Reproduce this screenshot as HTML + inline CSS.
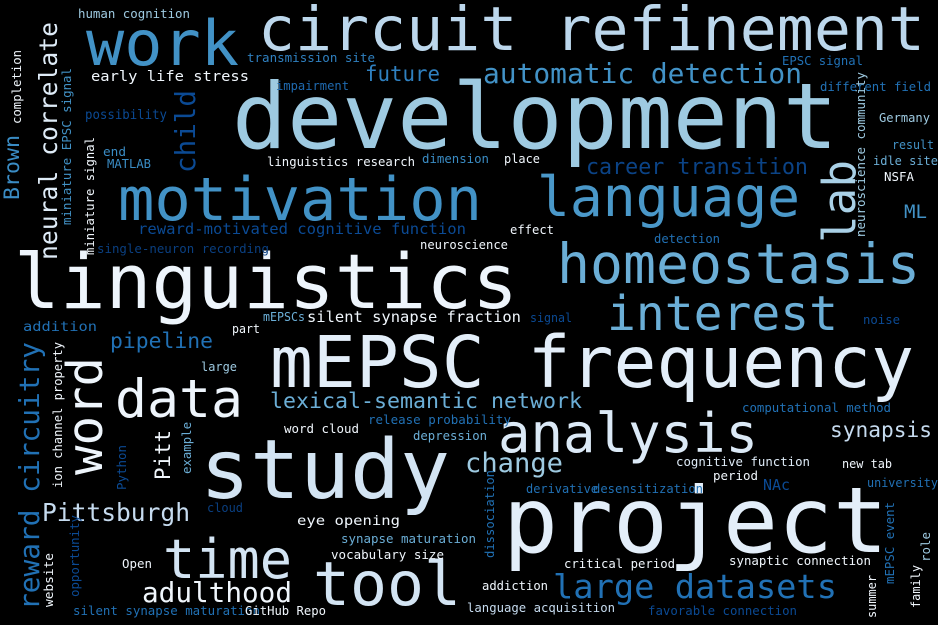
<!DOCTYPE html>
<html><head><meta charset="utf-8"><style>
html,body{margin:0;padding:0;background:#000;}
svg{display:block;}
text{font-family:"DejaVu Sans Mono","Liberation Mono",monospace;}
</style></head><body>
<svg width="938" height="625" viewBox="0 0 938 625" xmlns="http://www.w3.org/2000/svg">
<rect width="938" height="625" fill="#000"/>
<g lengthAdjust="spacingAndGlyphs">
<!-- large words -->
<text x="232" y="148" font-size="91" fill="#9ecae1" textLength="606" lengthAdjust="spacingAndGlyphs">development</text>
<text x="258" y="50" font-size="61" fill="#bcd7ec" textLength="667" lengthAdjust="spacingAndGlyphs">circuit refinement</text>
<text x="86" y="65" font-size="62" fill="#4292c6" textLength="153" lengthAdjust="spacingAndGlyphs">work</text>
<text x="118" y="220" font-size="60" fill="#4292c6" textLength="364" lengthAdjust="spacingAndGlyphs">motivation</text>
<text x="537" y="216" font-size="55" fill="#4a98c9" textLength="263" lengthAdjust="spacingAndGlyphs">language</text>
<text x="14" y="308" font-size="76" fill="#eef5fc" textLength="504" lengthAdjust="spacingAndGlyphs">linguistics</text>
<text x="557" y="283" font-size="55" fill="#6baed6" textLength="363" lengthAdjust="spacingAndGlyphs">homeostasis</text>
<text x="607" y="330" font-size="48" fill="#6baed6" textLength="231" lengthAdjust="spacingAndGlyphs">interest</text>
<text x="270" y="387" font-size="71" fill="#e3eef9" textLength="644" lengthAdjust="spacingAndGlyphs">mEPSC frequency</text>
<text x="115" y="417" font-size="53" fill="#eef5fc" textLength="128" lengthAdjust="spacingAndGlyphs">data</text>
<text x="498" y="452" font-size="54" fill="#dbe9f6" textLength="260" lengthAdjust="spacingAndGlyphs">analysis</text>
<text x="200" y="498" font-size="82" fill="#d3e4f3" textLength="250" lengthAdjust="spacingAndGlyphs">study</text>
<text x="503" y="552" font-size="91" fill="#e3eef9" textLength="385" lengthAdjust="spacingAndGlyphs">project</text>
<text x="163" y="578" font-size="54" fill="#d3e4f3" textLength="129" lengthAdjust="spacingAndGlyphs">time</text>
<text x="313" y="605" font-size="61" fill="#d3e4f3" textLength="148" lengthAdjust="spacingAndGlyphs">tool</text>
<text x="142" y="602" font-size="28" fill="#f0f6fc" textLength="150" lengthAdjust="spacingAndGlyphs">adulthood</text>
<text x="553" y="598" font-size="33" fill="#2171b5" textLength="284" lengthAdjust="spacingAndGlyphs">large datasets</text>
<text x="42" y="521" font-size="25" fill="#c6dbef" textLength="148" lengthAdjust="spacingAndGlyphs">Pittsburgh</text>
<text x="483" y="83" font-size="28" fill="#4292c6" textLength="319" lengthAdjust="spacingAndGlyphs">automatic detection</text>
<text x="586" y="174" font-size="22" fill="#0b4386" textLength="222" lengthAdjust="spacingAndGlyphs">career transition</text>
<text x="365" y="81" font-size="21" fill="#2f80c0" textLength="75" lengthAdjust="spacingAndGlyphs">future</text>
<text x="270" y="408" font-size="21" fill="#6baed6" textLength="312" lengthAdjust="spacingAndGlyphs">lexical-semantic network</text>
<text x="110" y="348" font-size="21" fill="#2171b5" textLength="103" lengthAdjust="spacingAndGlyphs">pipeline</text>
<text x="465" y="472" font-size="27" fill="#9ecae1" textLength="98" lengthAdjust="spacingAndGlyphs">change</text>
<text x="830" y="437" font-size="21" fill="#c6dbef" textLength="102" lengthAdjust="spacingAndGlyphs">synapsis</text>
<text x="904" y="218" font-size="19" fill="#4292c6" textLength="23" lengthAdjust="spacingAndGlyphs">ML</text>
<text x="138" y="234" font-size="15.5" fill="#0b4a94" textLength="328" lengthAdjust="spacingAndGlyphs">reward-motivated cognitive function</text>
<text x="307" y="322" font-size="15" fill="#f0f6fc" textLength="214" lengthAdjust="spacingAndGlyphs">silent synapse fraction</text>
<!-- small words -->
<text x="78" y="18" font-size="12.5" fill="#9ecae1" textLength="112" lengthAdjust="spacingAndGlyphs">human cognition</text>
<text x="91" y="81" font-size="14" fill="#f0f6fc" textLength="158" lengthAdjust="spacingAndGlyphs">early life stress</text>
<text x="247" y="62" font-size="12.5" fill="#2f80c0" textLength="128" lengthAdjust="spacingAndGlyphs">transmission site</text>
<text x="276" y="90" font-size="12.5" fill="#1f6ab0" textLength="73" lengthAdjust="spacingAndGlyphs">impairment</text>
<text x="85" y="119" font-size="13" fill="#0b4a94" textLength="82" lengthAdjust="spacingAndGlyphs">possibility</text>
<text x="103" y="156" font-size="12.5" fill="#3a8cc4" textLength="23" lengthAdjust="spacingAndGlyphs">end</text>
<text x="107" y="168" font-size="12.5" fill="#3a8cc4" textLength="44" lengthAdjust="spacingAndGlyphs">MATLAB</text>
<text x="267" y="166" font-size="12" fill="#f0f6fc" textLength="148" lengthAdjust="spacingAndGlyphs">linguistics research</text>
<text x="422" y="163" font-size="12" fill="#3a8cc4" textLength="67" lengthAdjust="spacingAndGlyphs">dimension</text>
<text x="504" y="163" font-size="12" fill="#f0f6fc" textLength="36" lengthAdjust="spacingAndGlyphs">place</text>
<text x="782" y="65" font-size="12.5" fill="#2171b5" textLength="81" lengthAdjust="spacingAndGlyphs">EPSC signal</text>
<text x="820" y="91" font-size="12.5" fill="#2171b5" textLength="111" lengthAdjust="spacingAndGlyphs">different field</text>
<text x="879" y="122" font-size="12.5" fill="#9ecae1" textLength="51" lengthAdjust="spacingAndGlyphs">Germany</text>
<text x="892" y="149" font-size="12.5" fill="#4292c6" textLength="42" lengthAdjust="spacingAndGlyphs">result</text>
<text x="873" y="165" font-size="12.5" fill="#6baed6" textLength="65" lengthAdjust="spacingAndGlyphs">idle site</text>
<text x="884" y="181" font-size="12.5" fill="#f0f6fc" textLength="30" lengthAdjust="spacingAndGlyphs">NSFA</text>
<text x="97" y="253" font-size="12.5" fill="#0a3f80" textLength="172" lengthAdjust="spacingAndGlyphs">single-neuron recording</text>
<text x="510" y="234" font-size="12" fill="#f0f6fc" textLength="44" lengthAdjust="spacingAndGlyphs">effect</text>
<text x="420" y="249" font-size="12" fill="#f0f6fc" textLength="88" lengthAdjust="spacingAndGlyphs">neuroscience</text>
<text x="654" y="243" font-size="12" fill="#2171b5" textLength="66" lengthAdjust="spacingAndGlyphs">detection</text>
<text x="23" y="331" font-size="13" fill="#2171b5" textLength="74" lengthAdjust="spacingAndGlyphs">addition</text>
<text x="232" y="333" font-size="12" fill="#f0f6fc" textLength="28" lengthAdjust="spacingAndGlyphs">part</text>
<text x="263" y="321" font-size="12" fill="#6baed6" textLength="42" lengthAdjust="spacingAndGlyphs">mEPSCs</text>
<text x="530" y="322" font-size="12" fill="#0b4a94" textLength="42" lengthAdjust="spacingAndGlyphs">signal</text>
<text x="863" y="324" font-size="12" fill="#0b4a94" textLength="37" lengthAdjust="spacingAndGlyphs">noise</text>
<text x="201" y="371" font-size="12" fill="#9ecae1" textLength="36" lengthAdjust="spacingAndGlyphs">large</text>
<text x="742" y="412" font-size="12" fill="#2171b5" textLength="149" lengthAdjust="spacingAndGlyphs">computational method</text>
<text x="368" y="424" font-size="12" fill="#2171b5" textLength="143" lengthAdjust="spacingAndGlyphs">release probability</text>
<text x="284" y="433" font-size="12" fill="#f0f6fc" textLength="75" lengthAdjust="spacingAndGlyphs">word cloud</text>
<text x="413" y="440" font-size="12" fill="#6baed6" textLength="74" lengthAdjust="spacingAndGlyphs">depression</text>
<text x="676" y="466" font-size="12" fill="#deebf7" textLength="134" lengthAdjust="spacingAndGlyphs">cognitive function</text>
<text x="842" y="468" font-size="12" fill="#f0f6fc" textLength="50" lengthAdjust="spacingAndGlyphs">new tab</text>
<text x="713" y="480" font-size="12" fill="#f0f6fc" textLength="45" lengthAdjust="spacingAndGlyphs">period</text>
<text x="763" y="490" font-size="15" fill="#0b4a94" textLength="27" lengthAdjust="spacingAndGlyphs">NAc</text>
<text x="867" y="487" font-size="12.5" fill="#2171b5" textLength="71" lengthAdjust="spacingAndGlyphs">university</text>
<text x="526" y="493" font-size="12" fill="#2171b5" textLength="72" lengthAdjust="spacingAndGlyphs">derivative</text>
<text x="593" y="493" font-size="12" fill="#2171b5" textLength="110" lengthAdjust="spacingAndGlyphs">desensitization</text>
<text x="207" y="512" font-size="12" fill="#0a3f80" textLength="36" lengthAdjust="spacingAndGlyphs">cloud</text>
<text x="297" y="525" font-size="13" fill="#f0f6fc" textLength="103" lengthAdjust="spacingAndGlyphs">eye opening</text>
<text x="341" y="543" font-size="12" fill="#6baed6" textLength="135" lengthAdjust="spacingAndGlyphs">synapse maturation</text>
<text x="331" y="559" font-size="12" fill="#f0f6fc" textLength="113" lengthAdjust="spacingAndGlyphs">vocabulary size</text>
<text x="564" y="568" font-size="12" fill="#f0f6fc" textLength="111" lengthAdjust="spacingAndGlyphs">critical period</text>
<text x="729" y="565" font-size="12" fill="#f0f6fc" textLength="142" lengthAdjust="spacingAndGlyphs">synaptic connection</text>
<text x="122" y="568" font-size="12" fill="#f0f6fc" textLength="30" lengthAdjust="spacingAndGlyphs">Open</text>
<text x="482" y="590" font-size="12" fill="#f0f6fc" textLength="66" lengthAdjust="spacingAndGlyphs">addiction</text>
<text x="467" y="612" font-size="12" fill="#c6dbef" textLength="148" lengthAdjust="spacingAndGlyphs">language acquisition</text>
<text x="648" y="615" font-size="12" fill="#0b4a94" textLength="149" lengthAdjust="spacingAndGlyphs">favorable connection</text>
<text x="73" y="615" font-size="12.5" fill="#2171b5" textLength="187" lengthAdjust="spacingAndGlyphs">silent synapse maturation</text>
<text x="245" y="615" font-size="12.5" fill="#f0f6fc" textLength="81" lengthAdjust="spacingAndGlyphs">GitHub Repo</text>
<!-- vertical words -->
<text transform="translate(855,243) rotate(-90)" font-size="45" fill="#a9d0e6" textLength="83" lengthAdjust="spacingAndGlyphs">lab</text>
<text transform="translate(195,173) rotate(-90)" font-size="28" fill="#0b4a94" textLength="83" lengthAdjust="spacingAndGlyphs">child</text>
<text transform="translate(19,200) rotate(-90)" font-size="21.5" fill="#3a8cc4" textLength="65" lengthAdjust="spacingAndGlyphs">Brown</text>
<text transform="translate(21,124) rotate(-90)" font-size="12.3" fill="#f0f6fc" textLength="74" lengthAdjust="spacingAndGlyphs">completion</text>
<text transform="translate(57,260) rotate(-90)" font-size="25" fill="#deebf7" textLength="238" lengthAdjust="spacingAndGlyphs">neural correlate</text>
<text transform="translate(71,225) rotate(-90)" font-size="12.4" fill="#4292c6" textLength="157" lengthAdjust="spacingAndGlyphs">miniature EPSC signal</text>
<text transform="translate(94,255) rotate(-90)" font-size="12.3" fill="#f0f6fc" textLength="118" lengthAdjust="spacingAndGlyphs">miniature signal</text>
<text transform="translate(865,237) rotate(-90)" font-size="12.4" fill="#9ecae1" textLength="165" lengthAdjust="spacingAndGlyphs">neuroscience community</text>
<text transform="translate(39,610) rotate(-90)" font-size="27.5" fill="#2171b5" textLength="268" lengthAdjust="spacingAndGlyphs">reward circuitry</text>
<text transform="translate(102,475) rotate(-90)" font-size="49" fill="#eef5fc" textLength="118" lengthAdjust="spacingAndGlyphs">word</text>
<text transform="translate(62,488) rotate(-90)" font-size="12.1" fill="#f0f6fc" textLength="146" lengthAdjust="spacingAndGlyphs">ion channel property</text>
<text transform="translate(170,480) rotate(-90)" font-size="21" fill="#f0f6fc" textLength="50" lengthAdjust="spacingAndGlyphs">Pitt</text>
<text transform="translate(191,474) rotate(-90)" font-size="12.3" fill="#6baed6" textLength="52" lengthAdjust="spacingAndGlyphs">example</text>
<text transform="translate(126,490) rotate(-90)" font-size="12.3" fill="#0b4a94" textLength="45" lengthAdjust="spacingAndGlyphs">Python</text>
<text transform="translate(79,597) rotate(-90)" font-size="12.3" fill="#0b4a94" textLength="82" lengthAdjust="spacingAndGlyphs">opportunity</text>
<text transform="translate(53,607) rotate(-90)" font-size="12" fill="#f0f6fc" textLength="54" lengthAdjust="spacingAndGlyphs">website</text>
<text transform="translate(494,558) rotate(-90)" font-size="12.3" fill="#2171b5" textLength="88" lengthAdjust="spacingAndGlyphs">dissociation</text>
<text transform="translate(894,584) rotate(-90)" font-size="12.4" fill="#2171b5" textLength="82" lengthAdjust="spacingAndGlyphs">mEPSC event</text>
<text transform="translate(876,618) rotate(-90)" font-size="12" fill="#f0f6fc" textLength="43" lengthAdjust="spacingAndGlyphs">summer</text>
<text transform="translate(920,608) rotate(-90)" font-size="12.3" fill="#f0f6fc" textLength="43" lengthAdjust="spacingAndGlyphs">family</text>
<text transform="translate(930,562) rotate(-90)" font-size="12.3" fill="#9ecae1" textLength="30" lengthAdjust="spacingAndGlyphs">role</text>
</g>
</svg>
</body></html>
